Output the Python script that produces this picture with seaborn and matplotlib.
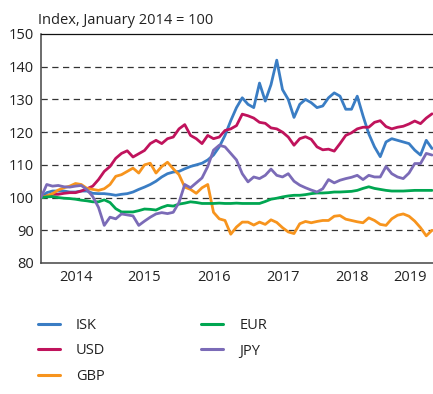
import numpy as np
import pandas as pd
import matplotlib
matplotlib.use("Agg")
import matplotlib.pyplot as plt
from matplotlib.lines import Line2D
import seaborn as sns

# Monthly index values, January 2014 = 100 (Jan 2014 .. Sep 2019)
currencies = ["ISK", "USD", "GBP", "EUR", "JPY"]
colors = ["#3a7dc4", "#c0135c", "#f7941d", "#00a651", "#7b6bb7"]

isk = [100, 101.5, 102, 102, 102, 101.7, 101.7, 102, 102, 101.3, 101.2, 101.2,
       101, 100.7, 101, 101.2, 101.7, 102.5, 103.2, 104, 105, 106.3, 107.3, 107.8,
       108, 108.8, 109.5, 110, 110.5, 111.5, 113, 115.5, 119, 123.5, 127.5, 130.5,
       128.5, 127.5, 135, 129.5, 134.5, 142, 133, 130, 124.5, 128.5, 130, 129,
       127.5, 128, 130.5, 132, 131, 127, 127, 131, 125, 119.5, 115.5, 112.5,
       117, 118, 117.5, 117, 116.5, 114.5, 113, 117.5, 115]

usd = [100, 100.5, 101, 101, 101.3, 101.5, 101.5, 102, 102.7, 103.5, 105.5, 108,
       109.5, 112, 113.5, 114.3, 112.4, 113.4, 114.4, 116.5, 117.5, 116.5, 118, 118.5,
       121, 122.3, 119, 118, 116.5, 119, 118, 118.5, 120.5, 121, 122, 125.5,
       125, 124.3, 123, 122.7, 121.3, 121, 120, 118.5, 116, 118, 118.6, 117.8,
       115.5, 114.6, 114.8, 114.2, 116.5, 119, 119.8, 121, 121.5, 121.5, 123, 123.5,
       121.7, 121, 121.5, 121.8, 122.5, 123.4, 122.6, 124.3, 125.6]

gbp = [100, 100.5, 101.2, 102.3, 103, 103.5, 104.3, 104, 102.8, 102.5, 102.2, 102.7,
       104, 106.5, 107, 108, 109, 107.5, 110, 110.5, 107.5, 109.5, 110.8, 108.8,
       107, 103.2, 102.5, 101.3, 103, 104, 95.5, 93.5, 93, 88.8, 91, 92.5,
       92.5, 91.6, 92.5, 91.8, 93.2, 92.4, 90.8, 89.5, 89, 92, 92.7, 92.3,
       92.7, 93, 93, 94.3, 94.5, 93.4, 93, 92.6, 92.3, 93.8, 93, 91.8,
       91.5, 93.5, 94.6, 95, 94.3, 92.8, 90.8, 88.3, 90]

eur = [100, 100.2, 100.3, 100, 99.8, 99.7, 99.5, 99.2, 99, 98.7, 98.7, 99.3,
       98.5, 96.6, 95.6, 95.6, 95.6, 96, 96.5, 96.4, 96.2, 97, 97.6, 97.4,
       98, 98.3, 98.7, 98.5, 98.2, 98.2, 98.2, 98.3, 98.2, 98.2, 98.3, 98.2,
       98.2, 98.2, 98.2, 98.8, 99.5, 99.8, 100.2, 100.5, 100.7, 100.7, 100.9, 101.2,
       101.4, 101.4, 101.5, 101.7, 101.7, 101.8, 101.9, 102.2, 102.8, 103.3, 102.8, 102.5,
       102.2, 102, 102, 102, 102.1, 102.2, 102.2, 102.2, 102.2]

jpy = [100, 104, 103.5, 103.7, 103.3, 103.2, 103.5, 103.7, 102.4, 100.3, 97, 91.5,
       94, 93.5, 95, 94.7, 94.4, 91.5, 92.8, 94, 95, 95.4, 95.1, 95.5,
       98.5, 104, 103, 104.5, 106, 109.5, 114.5, 116, 115.5, 113.5, 111.5, 107.3,
       104.8, 106.3, 105.8, 106.8, 108.7, 106.8, 106.3, 107.3, 105, 103.8, 103, 102.3,
       101.7, 102.7, 105.5, 104.5, 105.3, 105.8, 106.2, 106.8, 105.5, 106.8, 106.3, 106.3,
       109.5, 107.3, 106.3, 105.8, 107.5, 110.4, 110.4, 113.5, 113]

years = [2014, 2015, 2016, 2017, 2018, 2019]
yticks = [80, 90, 100, 110, 120, 130, 140, 150]

series = dict(zip(currencies, [isk, usd, gbp, eur, jpy]))
t = 2014 + np.arange(len(isk)) / 12.0
df = pd.concat(
    [pd.DataFrame({"t": t, "index": vals, "currency": name}) for name, vals in series.items()],
    ignore_index=True,
)

sns.set_style("white")
plt.rcParams["font.family"] = ["Open Sans", "DejaVu Sans"]

W, H = 433, 394
fig = plt.figure(figsize=(W / 100, H / 100), dpi=100)
ax = fig.add_axes([41 / W, (H - 263) / H, (W - 41) / W, (263 - 34) / H])

xmax = 2014 + 392 / 69
ax.set_xlim(2014, xmax)
ax.set_ylim(80, 150)

for g in [90, 100, 110, 120, 130, 140]:
    ax.axhline(g, color="#333333", lw=0.9, ls=(0, (5, 3.6)), zorder=1)

palette = dict(zip(currencies, colors))
sns.lineplot(data=df, x="t", y="index", hue="currency", hue_order=currencies,
             palette=palette, linewidth=2.0, estimator=None, legend=False,
             ax=ax, zorder=3)

# spines
for side in ["left", "bottom"]:
    ax.spines[side].set_color("#444444")
    ax.spines[side].set_linewidth(1.1)
ax.spines["top"].set_color("#111111")
ax.spines["top"].set_linewidth(0.9)
ax.spines["right"].set_visible(False)

# y axis
ax.set_yticks(yticks)
ax.tick_params(axis="y", length=0, pad=5, labelsize=10.5, colors="#222222")

# x axis: ticks at year boundaries, labels in between
ax.set_xticks(years)
ax.set_xticklabels([])
ax.tick_params(axis="x", which="major", length=5, width=1.1, color="#444444", direction="out")
mids = [y + 0.5 for y in years[:-1]] + [(years[-1] + xmax) / 2]
ax.set_xticks(mids, minor=True)
ax.set_xticklabels([str(y) for y in years], minor=True)
ax.tick_params(axis="x", which="minor", length=0, pad=5, labelsize=10.5, colors="#222222")
ax.set_xlabel("")
ax.set_ylabel("")

fig.text(38 / W, (H - 24) / H, "Index, January 2014 = 100", fontsize=10.5,
         color="#222222", va="baseline", ha="left")

handles = [Line2D([0], [0], color=c, lw=2.2) for c in colors]
fig.legend(handles, currencies, loc="upper left", bbox_to_anchor=(38 / W, (H - 318) / H),
           ncol=2, frameon=False, fontsize=10.5, handlelength=1.5, handletextpad=1.1,
           columnspacing=6.6, labelspacing=0.72, borderpad=0, borderaxespad=0,
           labelcolor="#222222")

fig.savefig("out.png", dpi=100)
